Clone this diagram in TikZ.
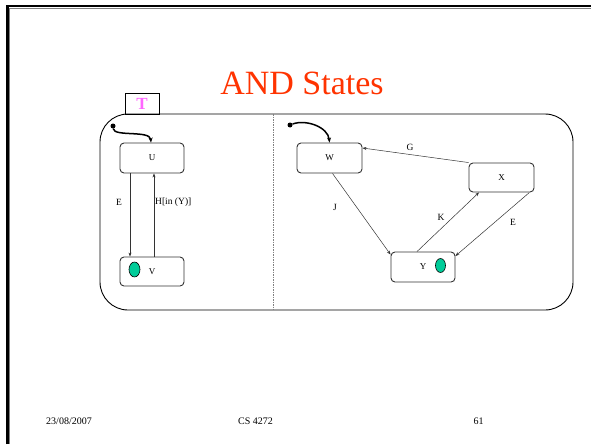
\documentclass[tikz,border=0pt]{standalone}
\usepackage{fontspec}
\setmainfont{Liberation Serif}
\usetikzlibrary{arrows.meta,shapes.geometric}
\definecolor{titlered}{HTML}{FF3300}
\definecolor{tpink}{HTML}{FF66FF}
\definecolor{histgreen}{HTML}{00CC99}
\definecolor{boxline}{HTML}{333333}
\begin{document}
\begin{tikzpicture}[x=1pt,y=-1pt,
  state/.style={draw=boxline,line width=0.9pt,rounded corners=4pt,
    minimum width=64pt,minimum height=30pt,inner sep=0pt,
    font=\fontsize{9}{10}\selectfont},
  lbl/.style={inner sep=0pt,font=\fontsize{9.5}{11}\selectfont},
  trans/.style={draw=black!80,line width=0.5pt,-{Stealth[length=4pt,width=3pt]}},
  initdot/.style={circle,fill=black,inner sep=0pt,minimum size=5pt},
  inittrans/.style={line width=1.5pt,-{Stealth[length=5pt,width=4pt]}},
  hist/.style={ellipse,draw=black,line width=0.6pt,fill=histgreen,
    minimum width=11pt,minimum height=15pt,inner sep=0pt},
  foot/.style={inner sep=0pt,anchor=base,font=\fontsize{10}{12}\selectfont}]
\useasboundingbox (0,0) rectangle (591,444);

% slide frame
\draw[line width=2.5pt] (7.25,444) -- (7.25,6.25) -- (591,6.25);
\draw[gray,line width=1pt] (9.5,444) -- (9.5,8.5) -- (591,8.5);

% title
\node[anchor=base,inner sep=0pt,text=titlered,font=\fontsize{34}{40}\selectfont]
  (title) at (302,94) {AND States};

% superstate T with its tab
\draw[line width=0.9pt,rounded corners=28pt] (100,114) rectangle (573,310);
\node[draw,line width=0.8pt,minimum width=34pt,minimum height=21pt,inner sep=0pt,
  text=tpink,font=\bfseries\fontsize{17}{18}\selectfont] (T) at (142,103.5) {T};
\draw[gray,line width=0.6pt,dash pattern=on 1.5pt off 1pt] (273,114) -- (273,310);

% left region
\node[state] (U) at (152,158) {U};
\node[state,minimum height=29pt] (V) at (152,271.5) {V};
\node[hist] (hV) at (134.5,269.5) {};
\node[initdot] (iU) at (113,126) {};
\draw[inittrans] (iU) .. controls (114,137) and (150,130) .. ([xshift=-1pt]U.north);
\draw[trans] ([xshift=-22pt]U.south) -- ([xshift=-22pt]V.north);
\draw[trans] ([xshift=2pt]V.north) -- ([xshift=2pt]U.south);
\node[lbl] (lE1) at (119,202) {E};
\node[lbl,anchor=west] (lH) at (155,202) {H[in (Y)]};

% right region
\node[state,minimum width=65pt] (W) at (329.5,158) {W};
\node[state,minimum width=65pt,minimum height=29pt] (X) at (501.5,177.5) {X};
\node[state] (Y) at (423,267) {Y};
\node[hist,minimum width=10pt,minimum height=14pt] (hY) at (440.5,265.5) {};
\node[initdot] (iW) at (290,125) {};
\draw[inittrans] (iW) .. controls (306,119) and (328,127) .. (W.north);
\draw[trans] (X.north west) -- ([yshift=10pt]W.east);
\draw[trans] ([xshift=3pt]W.south) -- ([yshift=-3pt]Y.north west);
\draw[trans] ([xshift=-6pt]Y.north) -- ([xshift=-22.5pt]X.south);
\draw[trans] ([xshift=-5pt]X.south east) -- ([yshift=11pt]Y.east);
\node[lbl] (lG) at (410,147) {G};
\node[lbl] (lJ) at (335,207) {J};
\node[lbl] (lK) at (441,217) {K};
\node[lbl] (lE2) at (513,222) {E};

% footer
\node[foot] (date) at (69,424) {23/08/2007};
\node[foot] (course) at (255.5,424) {CS 4272};
\node[foot] (page) at (478.5,424) {61};
\end{tikzpicture}
\end{document}
